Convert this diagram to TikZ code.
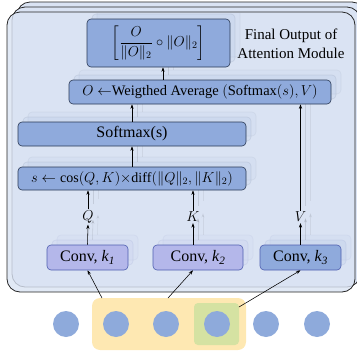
\documentclass[tikz,border=0pt]{standalone}
\usepackage{amsmath}
\usepackage{fontspec}
\setmainfont{Liberation Serif}
\usetikzlibrary{arrows.meta}
\definecolor{panelfill}{HTML}{DAE3F3}
\definecolor{boxblue}{HTML}{8FAADC}
\definecolor{lav}{HTML}{B4B7EA}
\definecolor{lavline}{HTML}{4F5FB0}
\definecolor{boxline}{HTML}{2B3A55}
\definecolor{inyellow}{HTML}{FEE8B2}
\definecolor{ingreen}{HTML}{D5E2A2}
\definecolor{dotblue}{HTML}{8EAADB}
\tikzset{
  panelbox/.style={draw=black!85, line width=0.8pt, fill=panelfill, rounded corners=13pt},
  bluebox/.style={draw=boxline, line width=0.6pt, fill=boxblue, rounded corners=4pt, inner sep=0pt,
    font=\fontsize{16}{18}\selectfont},
  convbox/.style={bluebox, draw=lavline, fill=lav},
  convboxb/.style={bluebox, draw=lavline},
  lbl/.style={inner sep=1pt, font=\fontsize{15}{17}\selectfont},
  arr/.style={-{Stealth[length=4.5pt,width=3.2pt]}, line width=0.55pt, black},
  dotnode/.style={circle, fill=dotblue, minimum size=26pt, inner sep=0pt},
}
\newcommand\lt[1]{#1}
\newcommand\drawlayer[1]{%
  \node[bluebox, minimum width=143pt, minimum height=48pt, font=\fontsize{14.5}{17}\selectfont] (#1top) at (158.5,43)
    {\lt{$\left[\dfrac{O}{\|O\|_2}\circ\|O\|_2\right]$}};
  \node[bluebox, minimum width=262pt, minimum height=24pt, font=\fontsize{14.5}{17}\selectfont] (#1wavg) at (200,92)
    {\lt{$O\leftarrow$Weigthed Average $(\mathrm{Softmax}(s),V)$}};
  \node[bluebox, minimum width=228pt, minimum height=24pt] (#1soft) at (132,134) {\lt{Softmax(s)}};
  \node[bluebox, minimum width=228pt, minimum height=23pt, font=\fontsize{14}{16}\selectfont] (#1sbox) at (132,178.5)
    {\lt{$s\leftarrow\cos(Q,K){\times}\mathrm{diff}(\|Q\|_2,\|K\|_2)$}};
  \node[lbl] (#1Q) at (88,217) {\lt{$Q$}};
  \node[lbl] (#1K) at (193,217) {\lt{$K$}};
  \node[lbl] (#1V) at (300.5,217) {\lt{$V$}};
  \node[convbox, minimum width=81pt, minimum height=25pt] (#1ca) at (87.5,257.5) {\lt{Conv, \textit{k\textsubscript{1}}}};
  \node[convbox, minimum width=90pt, minimum height=25pt] (#1cb) at (198,257.5) {\lt{Conv, \textit{k\textsubscript{2}}}};
  \node[convboxb, minimum width=81pt, minimum height=25pt] (#1cc) at (300.5,257.5) {\lt{Conv, \textit{k\textsubscript{3}}}};
  \draw[arr] ([xshift=4.5pt]#1top.south |- #1wavg.north) -- ([xshift=4.5pt]#1top.south);
  \draw[arr] (#1soft.north) -- (#1soft.north |- #1wavg.south);
  \draw[arr] (#1sbox.north) -- (#1soft.south);
  \draw[arr] (#1Q.north) -- (#1Q.north |- #1sbox.south);
  \draw[arr] (#1K.north) -- (#1K.north |- #1sbox.south);
  \draw[arr] (#1V.north) -- (#1V.north |- #1wavg.south);
  \draw[arr] (#1ca.north) -- (#1Q.south);
  \draw[arr] (#1K.south |- #1cb.north) -- (#1K.south);
  \draw[arr] (#1cc.north) -- (#1V.south);
}
\begin{document}
\begin{tikzpicture}[x=1pt,y=-1pt]
  \useasboundingbox (0,0) rectangle (357,354);
  \clip (0,0) rectangle (357,354);
  % stacked panels
  \path[panelbox] (17,2) rectangle (365,282);
  \path[panelbox] (12,7) rectangle (360,287);
  \path[panelbox, fill opacity=0.8] (7,12) rectangle (355,292);
  % faint copies from the layers behind (shapes only)
  \begin{scope}
    \clip[rounded corners=13pt] (8,13) rectangle (354,291);
    \def\lt#1{\phantom{#1}}
    \begin{scope}[shift={(10,-10)}, opacity=0.06]
      \drawlayer{gb}
    \end{scope}
    \begin{scope}[shift={(5,-5)}, opacity=0.1]
      \drawlayer{ga}
    \end{scope}
  \end{scope}
  % main content
  \drawlayer{}
  \node[font=\fontsize{15}{19}\selectfont, align=center] (cap) at (291,44)
    {Final Output of\\Attention Module};
  % inputs
  \path[fill=inyellow, rounded corners=8pt] (92,298) rectangle (246,350);
  \path[fill=ingreen, rounded corners=4pt] (194,303) rectangle (239,345);
  \foreach \i/\x in {1/66,2/116,3/166,4/217,5/266,6/317}
    \node[dotnode] (d\i) at (\x,324) {};
  \coordinate (in1) at (102,298);
  \coordinate (in2) at (168,298);
  \coordinate (in3) at (239,307);
  \draw[arr] (in1) -- (ca.south);
  \draw[arr] (in2) -- ([xshift=-5pt]cb.south);
  \draw[arr] (in3) -- (cc.south);
\end{tikzpicture}
\end{document}
